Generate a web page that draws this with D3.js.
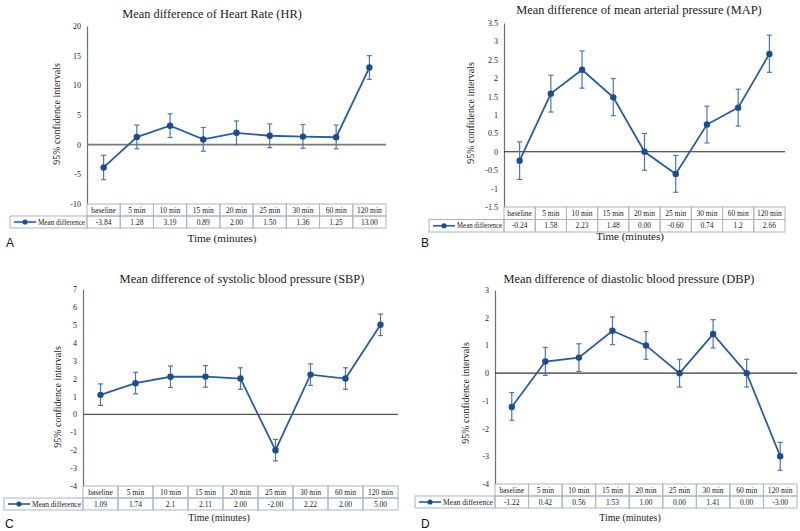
<!DOCTYPE html>
<html>
<head>
<meta charset="utf-8">
<script src="https://cdn.jsdelivr.net/npm/d3@7"></script>
<style>
  html, body { margin: 0; padding: 0; background: #fff; }
  svg { display: block; }
</style>
</head>
<body>
<svg id="chart" width="800" height="531"></svg>
<script>
// ---------- DATA ----------
const categories = ["baseline", "5 min", "10 min", "15 min", "20 min", "25 min", "30 min", "60 min", "120 min"];

const hrMean   = [-3.84, 1.28, 3.19, 0.89, 2.00, 1.50, 1.36, 1.25, 13.00];
const hrUpper  = [-1.8, 3.3, 5.2, 2.9, 4.0, 3.5, 3.4, 3.3, 15.0];
const hrLower  = [-5.9, -0.7, 1.2, -1.1, 0.0, -0.5, -0.6, -0.7, 11.0];
const hrLabels = ["-3.84", "1.28", "3.19", "0.89", "2.00", "1.50", "1.36", "1.25", "13.00"];
const hrTicks  = [-10, -5, 0, 5, 10, 15, 20];

const mapMean   = [-0.24, 1.58, 2.23, 1.48, 0.00, -0.60, 0.74, 1.2, 2.66];
const mapUpper  = [0.27, 2.08, 2.74, 1.99, 0.5, -0.1, 1.24, 1.7, 3.17];
const mapLower  = [-0.75, 1.08, 1.73, 0.98, -0.5, -1.1, 0.24, 0.7, 2.16];
const mapLabels = ["-0.24", "1.58", "2.23", "1.48", "0.00", "-0.60", "0.74", "1.2", "2.66"];
const mapTicks  = [-1.5, -1, -0.5, 0, 0.5, 1, 1.5, 2, 2.5, 3, 3.5];

const sbpMean   = [1.09, 1.74, 2.1, 2.11, 2.00, -2.00, 2.22, 2.00, 5.00];
const sbpUpper  = [1.7, 2.35, 2.7, 2.72, 2.6, -1.4, 2.82, 2.6, 5.6];
const sbpLower  = [0.5, 1.15, 1.5, 1.52, 1.4, -2.6, 1.62, 1.4, 4.4];
const sbpLabels = ["1.09", "1.74", "2.1", "2.11", "2.00", "-2.00", "2.22", "2.00", "5.00"];
const sbpTicks  = [-4, -3, -2, -1, 0, 1, 2, 3, 4, 5, 6, 7];

const dbpMean   = [-1.22, 0.42, 0.56, 1.53, 1.00, 0.00, 1.41, 0.00, -3.00];
const dbpUpper  = [-0.7, 0.93, 1.06, 2.03, 1.5, 0.5, 1.93, 0.5, -2.5];
const dbpLower  = [-1.7, -0.08, 0.06, 1.03, 0.5, -0.5, 0.91, -0.5, -3.5];
const dbpLabels = ["-1.22", "0.42", "0.56", "1.53", "1.00", "0.00", "1.41", "0.00", "-3.00"];
const dbpTicks  = [-4, -3, -2, -1, 0, 1, 2, 3];

const titles = [
  "Mean difference of Heart Rate (HR)",
  "Mean difference of mean arterial pressure (MAP)",
  "Mean difference of systolic blood pressure (SBP)",
  "Mean difference of diastolic blood pressure (DBP)"
];
const panelLetters = ["A", "B", "C", "D"];
const yAxisLabel = "95% confidence intervals";
const xAxisLabel = "Time (minutes)";
const legendLabel = "Mean difference";

// ---------- STYLE / LAYOUT ----------
const serif = "'Liberation Serif', 'Times New Roman', serif";
const sans = "'Liberation Sans', Arial, sans-serif";
const lineColor = "#2d5c9c";
const markerColor = "#1f4d8a";
const errColor = "#4a77b0";
const axisColor = "#5f7480";
const gridBorder = "#a7b6c4";
const textColor = "#1a1a1a";

const panels = [
  { mean: hrMean, up: hrUpper, lo: hrLower, labels: hrLabels, ticks: hrTicks,
    axisX: 87, right: 386, yTop: 26, yBot: 204, legendLeft: 10, rowH: 12,
    titleX: 212, titleY: 18, xlabX: 222, xlabY: 242, xlabSize: 11.2,
    letterX: 6, letterY: 247, ylabX: 60, ylabY: 114, zeroColor: "#7a7a7a", zeroW: 1.6 },
  { mean: mapMean, up: mapUpper, lo: mapLower, labels: mapLabels, ticks: mapTicks,
    axisX: 504, right: 785, yTop: 23, yBot: 207, legendLeft: 429, rowH: 12.5,
    titleX: 639, titleY: 14, xlabX: 630, xlabY: 240, xlabSize: 11,
    letterX: 421, letterY: 247, ylabX: 474, ylabY: 113, zeroColor: "#222", zeroW: 1.1 },
  { mean: sbpMean, up: sbpUpper, lo: sbpLower, labels: sbpLabels, ticks: sbpTicks,
    axisX: 83, right: 398, yTop: 289, yBot: 486, legendLeft: 4, rowH: 12,
    titleX: 242, titleY: 283, xlabX: 219, xlabY: 521, xlabSize: 10,
    letterX: 5, letterY: 528, ylabX: 61, ylabY: 397, zeroColor: "#555", zeroW: 1.2 },
  { mean: dbpMean, up: dbpUpper, lo: dbpLower, labels: dbpLabels, ticks: dbpTicks,
    axisX: 495, right: 797, yTop: 290, yBot: 484, legendLeft: 415, rowH: 12,
    titleX: 629, titleY: 283, xlabX: 630, xlabY: 521, xlabSize: 10,
    letterX: 421, letterY: 528, ylabX: 469, ylabY: 393, zeroColor: "#333", zeroW: 1.1 }
];

const svg = d3.select("#chart");

panels.forEach((p, i) => {
  const g = svg.append("g");
  const x = d3.scaleBand().domain(categories).range([p.axisX, p.right]).padding(0);
  const y = d3.scaleLinear().domain([p.ticks[0], p.ticks[p.ticks.length - 1]]).range([p.yBot, p.yTop]);

  // title
  g.append("text").attr("x", p.titleX).attr("y", p.titleY)
    .attr("text-anchor", "middle").attr("font-family", serif).attr("font-size", 12.4)
    .attr("fill", textColor).text(titles[i]);

  // y axis
  const yAxis = d3.axisLeft(y).tickValues(p.ticks).tickFormat(d => String(d))
    .tickSize(0).tickPadding(6);
  const ya = g.append("g").attr("transform", `translate(${p.axisX},0)`).call(yAxis)
    .attr("font-family", serif);
  ya.select(".domain").attr("stroke", axisColor).attr("stroke-width", 1.2);
  ya.selectAll("text").attr("font-family", serif).attr("font-size", 8).attr("fill", textColor);

  // y label
  g.append("text")
    .attr("transform", `translate(${p.ylabX},${p.ylabY}) rotate(-90)`)
    .attr("text-anchor", "middle").attr("font-family", serif).attr("font-size", 10)
    .attr("fill", textColor).text(yAxisLabel);

  // zero line
  g.append("line").attr("x1", p.axisX).attr("x2", p.right)
    .attr("y1", y(0)).attr("y2", y(0))
    .attr("stroke", p.zeroColor).attr("stroke-width", p.zeroW);

  // table
  const r1 = p.yBot, r2 = p.yBot + p.rowH;
  const tbl = g.append("g");
  tbl.selectAll("rect.hdr").data(categories).enter().append("rect")
    .attr("x", d => x(d)).attr("y", r1).attr("width", x.bandwidth()).attr("height", p.rowH)
    .attr("fill", "none").attr("stroke", gridBorder).attr("stroke-width", 1);
  tbl.selectAll("rect.val").data(categories).enter().append("rect")
    .attr("x", d => x(d)).attr("y", r2).attr("width", x.bandwidth()).attr("height", p.rowH)
    .attr("fill", "none").attr("stroke", gridBorder).attr("stroke-width", 1);
  tbl.append("rect").attr("x", p.legendLeft).attr("y", r2)
    .attr("width", p.axisX - p.legendLeft).attr("height", p.rowH)
    .attr("fill", "none").attr("stroke", gridBorder).attr("stroke-width", 1);
  tbl.selectAll("text.hdr").data(categories).enter().append("text")
    .attr("x", d => x(d) + x.bandwidth() / 2).attr("y", r1 + p.rowH / 2 + 2.6)
    .attr("text-anchor", "middle").attr("font-family", serif).attr("font-size", 7.5)
    .attr("fill", textColor).text(d => d);
  tbl.selectAll("text.val").data(p.labels).enter().append("text")
    .attr("x", (d, j) => x(categories[j]) + x.bandwidth() / 2).attr("y", r2 + p.rowH / 2 + 2.6)
    .attr("text-anchor", "middle").attr("font-family", serif).attr("font-size", 7.5)
    .attr("fill", textColor).text(d => d);
  // legend symbol
  const ly = r2 + p.rowH / 2;
  tbl.append("line").attr("x1", p.legendLeft + 4).attr("x2", p.legendLeft + 26)
    .attr("y1", ly).attr("y2", ly).attr("stroke", lineColor).attr("stroke-width", 1.6);
  tbl.append("circle").attr("cx", p.legendLeft + 15).attr("cy", ly).attr("r", 2.6).attr("fill", markerColor);
  tbl.append("text").attr("x", p.legendLeft + 28).attr("y", ly + 2.6)
    .attr("font-family", serif).attr("font-size", 8).attr("fill", textColor)
    .attr("textLength", p.axisX - p.legendLeft - 30).attr("lengthAdjust", "spacingAndGlyphs")
    .text(legendLabel);

  // x label
  g.append("text").attr("x", p.xlabX).attr("y", p.xlabY)
    .attr("text-anchor", "middle").attr("font-family", serif).attr("font-size", p.xlabSize)
    .attr("fill", textColor).text(xAxisLabel);

  // panel letter
  g.append("text").attr("x", p.letterX).attr("y", p.letterY)
    .attr("font-family", sans).attr("font-size", 12).attr("fill", "#111").text(panelLetters[i]);

  // data
  const pts = categories.map((c, j) => ({ c, v: p.mean[j], u: p.up[j], l: p.lo[j] }));
  const cx = d => x(d.c) + x.bandwidth() / 2;

  g.append("path").datum(pts)
    .attr("d", d3.line().x(cx).y(d => y(d.v)))
    .attr("fill", "none").attr("stroke", lineColor).attr("stroke-width", 1.8);

  const eb = g.append("g").attr("stroke", errColor).attr("stroke-width", 1.2);
  eb.selectAll("line.v").data(pts).enter().append("line")
    .attr("x1", cx).attr("x2", cx).attr("y1", d => y(d.u)).attr("y2", d => y(d.l));
  eb.selectAll("line.t").data(pts).enter().append("line")
    .attr("x1", d => cx(d) - 2.5).attr("x2", d => cx(d) + 2.5).attr("y1", d => y(d.u)).attr("y2", d => y(d.u));
  eb.selectAll("line.b").data(pts).enter().append("line")
    .attr("x1", d => cx(d) - 2.5).attr("x2", d => cx(d) + 2.5).attr("y1", d => y(d.l)).attr("y2", d => y(d.l));

  g.selectAll("circle.pt").data(pts).enter().append("circle")
    .attr("cx", cx).attr("cy", d => y(d.v)).attr("r", 3.2).attr("fill", markerColor);
});
</script>
</body>
</html>
